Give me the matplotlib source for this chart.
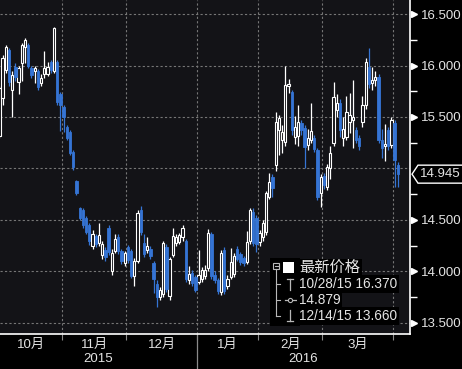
import matplotlib
matplotlib.use("Agg")
import matplotlib.pyplot as plt
from matplotlib.patches import Polygon, Rectangle
from matplotlib.transforms import blended_transform_factory, offset_copy, IdentityTransform
import numpy as np

plt.rcParams['font.family'] = ['Liberation Sans', 'Noto Sans CJK SC', 'DejaVu Sans']

#--------------------------------------#
#data (daily OHLC, Oct 5 2015 -> Apr 4 2016)#

month_names = ["10月", "11月", "12月", "1月", "2月", "3月"]
month_days = [20, 20, 22, 19, 20, 22, 2]   # trading days shown per month (last = April)
year_names = ["2015", "2016"]

opens = [
    # Oct
    15.32, 15.68, 15.96, 16.15, 15.76, 15.99, 15.84, 16.02, 16.18, 16.20,
    15.98, 15.95, 15.95, 15.83, 15.92, 15.92, 16.03, 15.95, 16.03, 15.72,
    # Nov
    15.60, 15.40, 15.35, 15.16, 14.88, 14.62, 14.60, 14.52, 14.45, 14.25,
    14.34, 14.28, 14.16, 14.21, 14.42, 14.00, 14.20, 14.33, 14.20, 14.08,
    # Dec
    14.24, 14.20, 13.96, 14.10, 14.60, 14.28, 14.21, 14.22, 14.08, 13.88, 13.75,
    13.78, 14.24, 13.76, 14.16, 14.28, 14.29, 14.33, 14.30, 13.92, 13.99, 13.95,
    # Jan
    13.90, 13.93, 13.96, 14.03, 14.36, 13.97, 13.92, 13.80, 14.21, 13.86,
    13.95, 13.98, 14.22, 14.17, 14.13, 14.09, 14.30, 14.58, 14.52,
    # Feb
    14.29, 14.33, 14.38, 14.72, 14.92, 15.03, 15.37, 15.28, 15.26, 15.80,
    15.74, 15.31, 15.32, 15.44, 15.39, 15.23, 15.28, 15.30, 15.18, 14.76,
    # Mar
    14.93, 14.82, 15.00, 15.25, 15.57, 15.64, 15.30, 15.31, 15.45, 15.47, 15.37,
    15.30, 15.45, 15.62, 15.99, 15.83, 15.86, 15.89, 15.28, 15.22, 15.37, 15.23,
    # Apr
    15.44, 15.03,
]
highs = [
    15.80, 16.10, 16.20, 16.17, 15.95, 16.02, 16.00, 16.22, 16.27, 16.22,
    16.00, 16.00, 15.97, 15.92, 16.14, 16.03, 16.05, 16.37, 16.05, 15.74,
    15.62, 15.42, 15.37, 15.18, 14.89, 14.63, 14.62, 14.54, 14.47, 14.40,
    14.36, 14.47, 14.30, 14.24, 14.45, 14.22, 14.36, 14.36, 14.22, 14.20,
    14.26, 14.22, 14.13, 14.60, 14.64, 14.36, 14.33, 14.25, 14.10, 13.92, 13.85,
    14.30, 14.27, 14.14, 14.42, 14.36, 14.37, 14.45, 14.32, 14.05, 14.01, 13.97,
    14.21, 14.04, 14.06, 14.41, 14.38, 14.00, 13.94, 14.21, 14.24, 13.97,
    14.23, 14.18, 14.25, 14.19, 14.15, 14.39, 14.62, 14.62, 14.55,
    14.40, 14.50, 14.78, 14.96, 14.95, 15.55, 15.52, 15.42, 16.00, 15.87,
    15.76, 15.51, 15.62, 15.47, 15.42, 15.38, 15.64, 15.33, 15.20, 14.95,
    14.96, 15.04, 15.22, 15.84, 15.72, 15.67, 15.50, 15.70, 15.73, 15.86, 15.40,
    15.33, 15.70, 16.07, 16.17, 15.99, 15.95, 15.92, 15.38, 15.43, 15.40, 15.50,
    15.47, 15.06,
]
lows = [
    15.30, 15.62, 15.93, 15.80, 15.50, 15.85, 15.72, 15.85, 16.02, 15.98,
    15.88, 15.83, 15.76, 15.80, 15.88, 15.90, 15.93, 15.93, 15.62, 15.36,
    15.35, 15.28, 15.13, 14.99, 14.74, 14.50, 14.42, 14.36, 14.26, 14.22,
    14.24, 14.25, 14.12, 14.10, 14.16, 13.97, 14.18, 14.17, 14.07, 14.05,
    14.08, 13.94, 13.86, 14.08, 14.35, 14.14, 14.18, 14.12, 13.79, 13.66, 13.72,
    13.75, 13.80, 13.72, 14.14, 14.25, 14.27, 14.30, 13.90, 13.88, 13.86, 13.80,
    13.88, 13.90, 13.93, 14.00, 13.93, 13.89, 13.78, 13.77, 13.78, 13.83,
    13.93, 13.95, 14.10, 14.06, 14.05, 14.07, 14.27, 14.25, 14.19,
    14.25, 14.30, 14.35, 14.70, 14.72, 14.98, 15.13, 15.15, 15.22, 15.73,
    15.33, 15.24, 15.22, 15.33, 15.00, 15.18, 15.25, 15.16, 14.69, 14.63,
    14.80, 14.79, 14.90, 15.22, 15.50, 15.31, 15.22, 15.28, 15.34, 15.20, 15.25,
    15.18, 15.40, 15.58, 15.78, 15.76, 15.80, 15.25, 15.10, 15.07, 15.18, 15.20,
    14.82, 14.82,
]
closes = [
    15.78, 16.07, 16.18, 15.84, 15.91, 15.89, 15.98, 16.20, 16.25, 16.00,
    15.91, 15.98, 15.79, 15.88, 15.98, 15.99, 15.96, 16.36, 15.65, 15.62,
    15.50, 15.30, 15.15, 15.01, 14.76, 14.52, 14.45, 14.38, 14.30, 14.36,
    14.27, 14.35, 14.27, 14.14, 14.19, 14.18, 14.32, 14.20, 14.10, 14.18,
    14.11, 13.96, 14.10, 14.57, 14.38, 14.17, 14.25, 14.15, 13.93, 13.75, 13.82,
    14.28, 13.83, 14.12, 14.34, 14.33, 14.35, 14.42, 13.93, 13.98, 13.89, 13.82,
    13.97, 14.01, 14.01, 14.37, 13.96, 13.92, 13.81, 14.18, 13.81, 13.93,
    14.09, 14.15, 14.12, 14.09, 14.08, 14.29, 14.60, 14.28, 14.27,
    14.37, 14.47, 14.76, 14.87, 14.81, 15.45, 15.49, 15.35, 15.81, 15.82,
    15.37, 15.40, 15.45, 15.37, 15.21, 15.30, 15.36, 15.19, 14.72, 14.92,
    14.84, 15.01, 15.15, 15.69, 15.64, 15.37, 15.38, 15.55, 15.52, 15.50, 15.28,
    15.22, 15.62, 16.03, 15.82, 15.86, 15.89, 15.28, 15.20, 15.24, 15.22, 15.47,
    15.08, 14.945,
]

legend_title = "最新价格"
legend_high = "10/28/15 16.370"
legend_avg = "14.879"
legend_low = "12/14/15 13.660"

#--------------------------------------#
#style#

W, H = 462, 369
BG = '#131317'
BLUE = '#3574d4'
TXT = '#e4e4e4'
GRID = '#767676'

fig = plt.figure(figsize=(W / 100, H / 100), dpi=100, facecolor='black')
ax = fig.add_axes([0, 35 / H, 410 / W, 334 / H])
ax.set_facecolor(BG)


def fig_xy(px, py):
    return px / W, 1 - py / H


#--------------------------------------#
#candles#

o = np.array(opens)
h = np.array(highs)
l = np.array(lows)
c = np.array(closes)
x = np.arange(len(c))
up = c >= o

ax.vlines(x[up], l[up], h[up], colors='white', lw=0.9, zorder=3)
ax.vlines(x[~up], l[~up], h[~up], colors=BLUE, lw=0.9, zorder=3)
body_bot = np.minimum(o, c)
body_h = np.maximum(np.abs(c - o), 0.012)
ax.bar(x[up], body_h[up], bottom=body_bot[up], width=0.72,
       facecolor=BG, edgecolor='white', lw=0.8, zorder=4)
ax.bar(x[~up], body_h[~up], bottom=body_bot[~up], width=0.72,
       facecolor=BLUE, edgecolor=BLUE, lw=0.6, zorder=4)

#--------------------------------------#
#axes#

x_left, x_right = 0.2, 127.8
ax.set_xlim(x_left, x_right)
ax.set_ylim(13.393, 16.636)

bounds = np.cumsum(month_days)[:-1] - 0.5
edges = [x_left] + list(bounds)

for side in ['top', 'left']:
    ax.spines[side].set_visible(False)
ax.spines['bottom'].set_color('white')
ax.spines['right'].set_color('white')
ax.spines['bottom'].set_linewidth(1.2)
ax.spines['right'].set_linewidth(1.2)

ax.set_xticks(bounds)
ax.set_xticklabels([])
ax.tick_params(axis='x', length=4, color='#8a8a8a', direction='out')
ax.xaxis.grid(True, color=GRID, lw=0.8, linestyle=(0, (2, 2)))

yt = np.arange(13.5, 16.51, 0.5)
ax.yaxis.tick_right()
ax.set_yticks(yt)
ax.set_yticklabels(["" if abs(v - 15.0) < 1e-6 else "%.3f" % v for v in yt])
ax.set_yticks(yt[:-1] + 0.25, minor=True)
ax.tick_params(axis='y', which='major', length=0, pad=8, labelsize=9.5, labelcolor=TXT)
ax.tick_params(axis='y', which='minor', length=5, color='white', width=1)
ax.yaxis.grid(True, color=GRID, lw=0.8, linestyle=(0, (2, 2)))
ax.set_axisbelow(True)

tri = offset_copy(blended_transform_factory(ax.transAxes, ax.transData), fig=fig, x=4, y=0, units='dots')
ax.plot(np.ones(len(yt) - 1), [v for v in yt if abs(v - 15.0) > 1e-6], '>', ms=4.5,
        color='white', transform=tri, clip_on=False)

# month and year labels
xb = blended_transform_factory(ax.transData, ax.transAxes)
for i, name in enumerate(month_names):
    ax.text((edges[i] + edges[i + 1]) / 2, -0.034, name, transform=xb, ha='center', va='center',
            fontsize=9.5, color=TXT)
jan = bounds[2]
ax.text((x_left + jan) / 2, -0.076, year_names[0], transform=xb, ha='center', va='center',
        fontsize=9.5, color=TXT)
ax.text((jan + x_right) / 2, -0.076, year_names[1], transform=xb, ha='center', va='center',
        fontsize=9.5, color=TXT)
ax.plot([jan, jan], [0, -0.11], color='#8a8a8a', lw=0.9, transform=xb, clip_on=False)

#--------------------------------------#
#last price tag#

fig.canvas.draw()
yd = ax.transData.transform((0, c[-1]))[1]
xs = ax.transAxes.transform((1, 0))[0]
tag = Polygon([(xs + 2, yd), (xs + 8, yd + 9), (xs + 60, yd + 9), (xs + 60, yd - 9), (xs + 8, yd - 9)],
              closed=True, facecolor='black', edgecolor='white', lw=1, transform=IdentityTransform(),
              zorder=10)
fig.patches.append(tag)
fig.text((xs + 10) / W, yd / H, "%.3f" % c[-1], ha='left', va='center', fontsize=9.5,
         color=TXT, zorder=11)

#--------------------------------------#
#legend#

ico = '#b8b8b8'
fig.patches.append(Rectangle(fig_xy(270, 326), 30 / W, 68 / H, transform=fig.transFigure,
                             facecolor='black', edgecolor='none', zorder=5))
fig.patches.append(Rectangle(fig_xy(273, 269), 6 / W, 6 / H, transform=fig.transFigure,
                             facecolor='none', edgecolor=ico, lw=0.8, zorder=6))
fig.lines.append(plt.Line2D(*zip(fig_xy(274.5, 266), fig_xy(277.5, 266)), transform=fig.transFigure,
                            color=ico, lw=0.8, zorder=6))
fig.patches.append(Rectangle(fig_xy(283, 273), 11 / W, 11 / H, transform=fig.transFigure,
                             facecolor='white', edgecolor='none', zorder=6))
bracket = [fig_xy(276, 269), fig_xy(276, 316)]
fig.lines.append(plt.Line2D(*zip(*bracket), transform=fig.transFigure, color=ico, lw=0.8, zorder=6))
for yy in (284, 300, 316):
    fig.lines.append(plt.Line2D(*zip(fig_xy(276, yy), fig_xy(280, yy)), transform=fig.transFigure,
                                color=ico, lw=0.8, zorder=6))
segs = [
    [(290, 279), (290, 290)], [(287, 279), (293, 279)],
    [(285, 300), (296, 300)],
    [(290, 310), (290, 321)], [(287, 321), (293, 321)],
]
for s in segs:
    fig.lines.append(plt.Line2D(*zip(*[fig_xy(*p) for p in s]), transform=fig.transFigure,
                                color=ico, lw=0.9, zorder=6))
fig.lines.append(plt.Line2D([fig_xy(290, 300)[0]], [fig_xy(290, 300)[1]], marker='o', ms=3,
                            mfc='black', mec=ico, mew=0.8, transform=fig.transFigure, zorder=7))

rows = [(legend_title, 268, 11), (legend_high, 284, 9.8), (legend_avg, 300, 9.8), (legend_low, 316, 9.8)]
for txt, yy, fs in rows:
    fx, fy = fig_xy(299, yy)
    fig.text(fx, fy, txt, ha='left', va='center', fontsize=fs, color=TXT, zorder=8,
             bbox=dict(facecolor='black', edgecolor='none', pad=1.2))

fig.savefig("out.png", dpi=100, facecolor='black')
